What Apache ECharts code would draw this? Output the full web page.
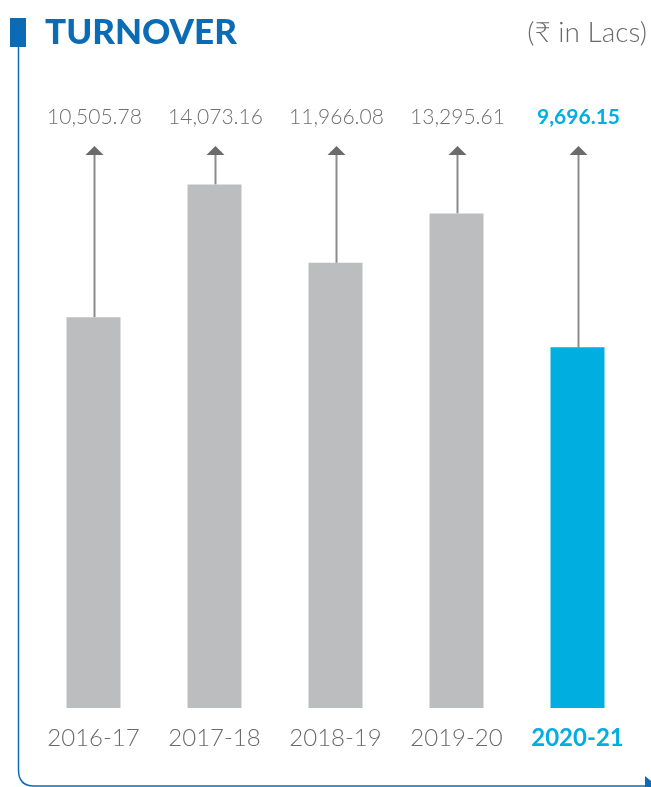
<!DOCTYPE html>
<html>
<head>
<meta charset="utf-8">
<script src="https://cdn.jsdelivr.net/npm/echarts@6/dist/echarts.min.js"></script>
<style>
  html, body { margin: 0; padding: 0; background: #fff; }
  #chart { width: 651px; height: 787px; }
</style>
</head>
<body>
<div id="chart"></div>
<script>
const years = ['2016-17', '2017-18', '2018-19', '2019-20', '2020-21'];
const turnover = [10505.78, 14073.16, 11966.08, 13295.61, 9696.15];

const GREY = '#bcbdbf';
const CYAN = '#00aee0';
const BLUE = '#0b6cb5';
const TEXT = '#6a6a6a';
const FONT = 'Lato, "Noto Sans", sans-serif';
const lastIdx = years.length - 1;

const fmt = v => v.toLocaleString('en-US', { minimumFractionDigits: 2, maximumFractionDigits: 2 });

const chart = echarts.init(document.getElementById('chart'));

chart.setOption({
  animation: false,
  grid: { left: 33, right: 13, top: 150, bottom: 79 },
  xAxis: {
    type: 'category',
    data: years,
    axisLine: { show: false },
    axisTick: { show: false },
    axisLabel: {
      interval: 0,
      margin: 18,
      fontFamily: FONT,
      fontSize: 24,
      fontWeight: 300,
      color: TEXT,
      formatter: (v, i) => (i === lastIdx ? '{hi|' + v + '}' : v),
      rich: {
        hi: { fontFamily: FONT, fontSize: 24, fontWeight: 'bold', color: CYAN }
      }
    }
  },
  yAxis: {
    type: 'value',
    min: 0,
    max: 15000,
    show: false
  },
  series: [
    {
      type: 'bar',
      barWidth: 54,
      data: turnover.map((v, i) => ({
        value: v,
        itemStyle: { color: i === lastIdx ? CYAN : GREY }
      })),
      z: 2
    },
    {
      // arrow from bar top up to the grid top, plus the value above it
      type: 'custom',
      data: turnover.map((v, i) => [i, v]),
      z: 1,
      renderItem: (params, api) => {
        const i = api.value(0);
        const base = api.coord([i, api.value(1)]);
        const top = params.coordSys.y - 4;
        const x = Math.round(base[0]) + 0.5;
        return {
          type: 'group',
          children: [
            {
              type: 'line',
              shape: { x1: x, y1: base[1], x2: x, y2: top + 8 },
              style: { stroke: '#8a8a8a', lineWidth: 2 }
            },
            {
              type: 'polygon',
              shape: { points: [[x - 9, top + 9], [x + 9, top + 9], [x, top]] },
              style: { fill: '#6b6b6b' }
            },
            {
              type: 'text',
              style: {
                x: x,
                y: 117,
                text: fmt(api.value(1)),
                align: 'center',
                verticalAlign: 'middle',
                fontFamily: FONT,
                fontSize: 21,
                fontWeight: i === lastIdx ? 'bold' : 300,
                fill: i === lastIdx ? CYAN : '#6f6f6f'
              }
            }
          ]
        };
      }
    }
  ],
  graphic: [
    { type: 'rect', shape: { x: 10, y: 18, width: 16, height: 29 }, style: { fill: BLUE } },
    {
      type: 'polyline',
      shape: { points: [[18.5, 47], [18.5, 770]] },
      style: { stroke: BLUE, lineWidth: 1.5, fill: null }
    },
    {
      type: 'bezierCurve',
      shape: { x1: 18.5, y1: 770, cpx1: 18.5, cpy1: 786, x2: 34, y2: 786 },
      style: { stroke: BLUE, lineWidth: 1.5, fill: null }
    },
    {
      type: 'polyline',
      shape: { points: [[34, 786], [645, 786]] },
      style: { stroke: BLUE, lineWidth: 1.5, fill: null }
    },
    { type: 'polygon', shape: { points: [[645, 776], [651, 781], [651, 787], [645, 787]] }, style: { fill: BLUE } },
    {
      type: 'text',
      left: 45, top: 15,
      style: { text: 'TURNOVER', fontFamily: FONT, fontSize: 35, fontWeight: 900, fill: BLUE }
    },
    {
      type: 'text',
      right: 4, top: 19,
      style: { text: '(₹ in Lacs)', fontFamily: FONT, fontSize: 28, fontWeight: 300, fill: TEXT }
    }
  ]
});
</script>
</body>
</html>
